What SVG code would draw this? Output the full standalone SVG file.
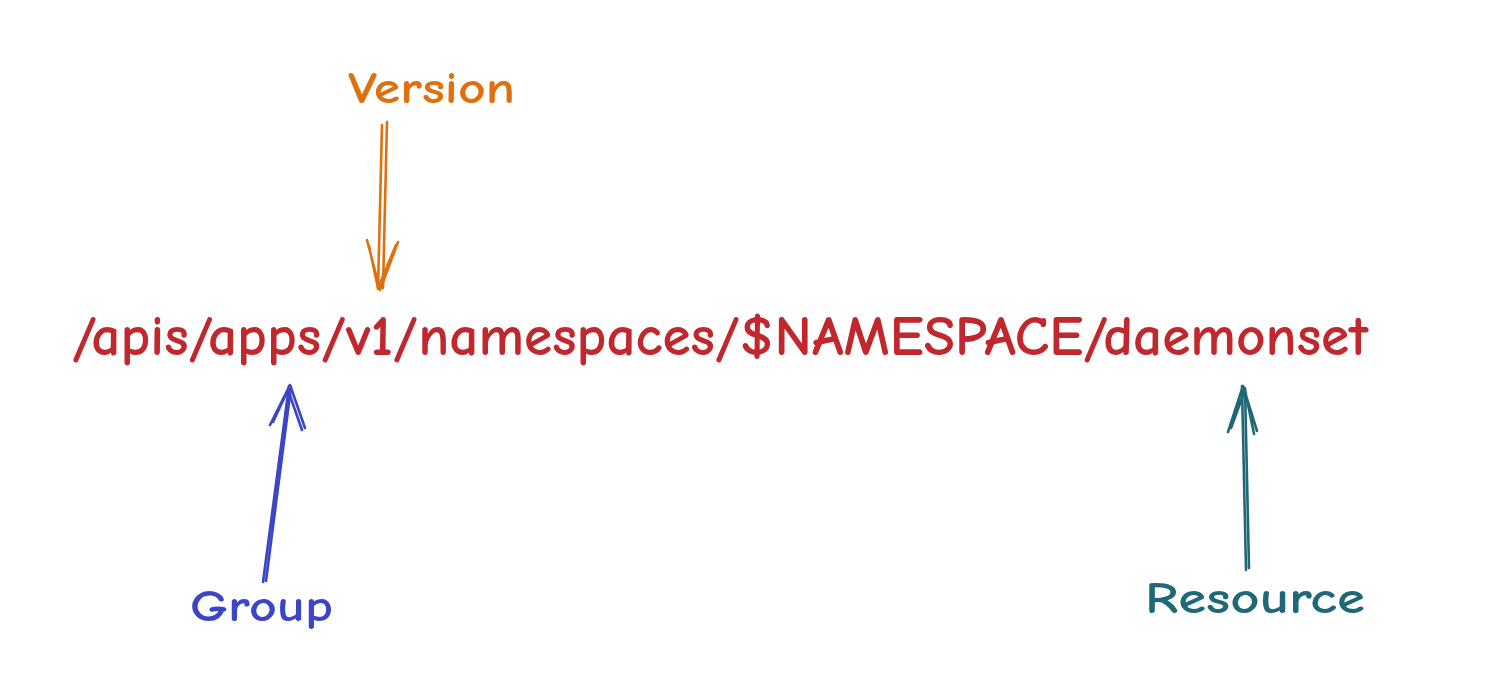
<svg xmlns="http://www.w3.org/2000/svg" width="1506" height="696" viewBox="0 0 1506 696">
<style>
text{font-family:"Comic Neue","Liberation Sans","DejaVu Sans",sans-serif;font-weight:700;}
.path{fill:#c0282d;font-size:56px;}
.ver{fill:#e0700f;font-size:44px;}
.grp{fill:#3a45c8;font-size:44px;}
.res{fill:#1f6878;font-size:44px;}
.ln{fill:none;stroke-width:2.6;stroke-linecap:round;stroke-linejoin:round;}
.o{stroke:#e0700f;}
.b{stroke:#3a45c8;}
.t{stroke:#1f6878;}
</style>
<rect width="1506" height="696" fill="#ffffff"/>
<g id="path-node">
<text class="path" x="72" y="355" textLength="1296" lengthAdjust="spacingAndGlyphs">/apis/apps/v1/namespaces/$NAMESPACE/daemonset</text>
</g>
<g id="version-node">
<text class="ver" x="348" y="103" textLength="167" lengthAdjust="spacingAndGlyphs">Version</text>
</g>
<g id="group-node">
<text class="grp" x="190" y="621" textLength="143" lengthAdjust="spacingAndGlyphs">Group</text>
</g>
<g id="resource-node">
<text class="res" x="1145" y="613" textLength="220" lengthAdjust="spacingAndGlyphs">Resource</text>
</g>
<g id="connectors">
<path class="ln o" d="M382 125 L378 289 M387 122 L383 288"/>
<path class="ln o" d="M367 240 L380 290 L398 242 M369 246 L378 288 L396 245"/>
<path class="ln b" d="M263 582 L289 386 M266 581 L291 387"/>
<path class="ln b" d="M270 425 L290 385 L305 428 M273 422 L288 390 L302 430"/>
<path class="ln t" d="M1246 570 L1242 386 M1249 568 L1245 388"/>
<path class="ln t" d="M1228 432 L1243 386 L1257 431 M1231 428 L1245 390 L1254 434"/>
</g>
</svg>
